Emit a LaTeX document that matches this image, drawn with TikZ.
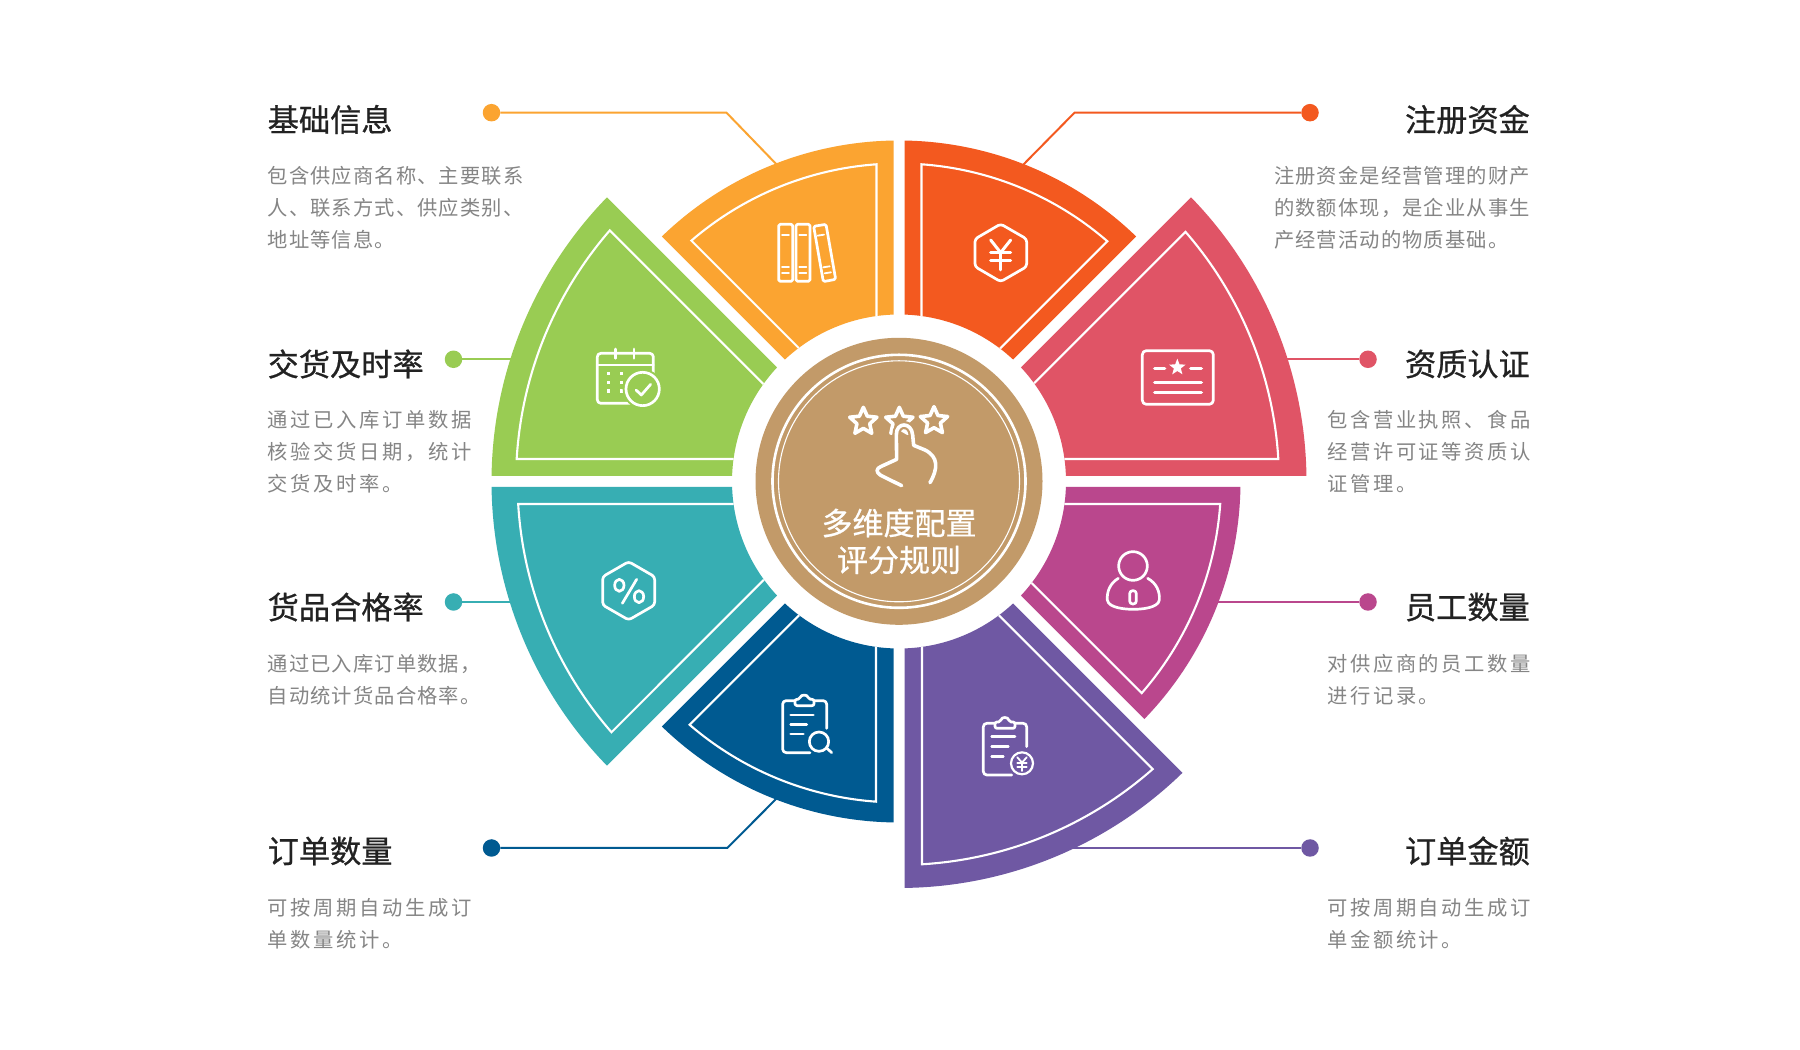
\documentclass[tikz,border=0pt]{standalone}
\usepackage{fontspec}
\newfontfamily\cjk{Noto Sans CJK SC}
\newfontfamily\cjkb{Noto Sans CJK SC}[FakeBold=0.7]
\newfontfamily\cjkA{Noto Sans CJK SC}[LetterSpace=5.4]
\newfontfamily\cjkB{Noto Sans CJK SC}[LetterSpace=13]
\definecolor{cOrange}{HTML}{FBA431}
\definecolor{cFire}{HTML}{F3591F}
\definecolor{cRed}{HTML}{E05466}
\definecolor{cMag}{HTML}{BA478D}
\definecolor{cPur}{HTML}{6F58A3}
\definecolor{cNavy}{HTML}{005A91}
\definecolor{cTeal}{HTML}{37AEB3}
\definecolor{cGreen}{HTML}{99CC53}
\definecolor{cTan}{HTML}{C29A69}
\definecolor{cTitle}{HTML}{222222}
\definecolor{cBody}{HTML}{858585}
\tikzset{
  iconline/.style={draw=white,line width=2.7pt,line cap=round,line join=round},
  thinline/.style={draw=white,line width=1.8pt,line cap=round},
  zoomed/.style={x=0.33333pt,y=-0.33333pt},
  dotnode/.style={circle,fill=#1,minimum size=17.5pt,inner sep=0pt},
  lead/.style={draw=#1,line width=2pt},
  headline/.style={font=\cjkb\fontsize{31.2pt}{34pt}\selectfont,text=cTitle,inner sep=0pt},
  bodyA/.style={font=\cjkA\fontsize{20.3pt}{31.6pt}\selectfont,text=cBody,inner sep=0pt,align=left,anchor=west},
  bodyB/.style={font=\cjkB\fontsize{20.3pt}{31.6pt}\selectfont,text=cBody,inner sep=0pt,align=left,anchor=west},
  hub/.style={font=\cjkb\fontsize{31pt}{34pt}\selectfont,text=white,inner sep=0pt},
}
\newcommand{\wedgeshape}[7]{%
 % #1 start angle, #2 outer radius, #3 colour, #4 line radius, #5 offset at start, #6 offset at end
 \pgfmathsetmacro\aoa{#1+asin(5.5/#2)}
 \pgfmathsetmacro\aob{#1+45-asin(5.5/#2)}
 \pgfmathsetmacro\aia{#1+asin(5.5/167)}
 \pgfmathsetmacro\aib{#1+45-asin(5.5/167)}
 \fill[#3] (\aoa:#2pt) arc[start angle=\aoa,end angle=\aob,radius=#2pt]
   -- (\aib:167pt) arc[start angle=\aib,end angle=\aia,radius=167pt] -- cycle;
 \pgfmathsetmacro\loa{#1+asin(#5/#4)}
 \pgfmathsetmacro\lob{#1+45-asin(#6/#4)}
 \pgfmathsetmacro\lia{#1+asin(#5/167)}
 \pgfmathsetmacro\lib{#1+45-asin(#6/167)}
 \draw[white,line width=#7pt,line join=miter] (\lia:167pt) -- (\loa:#4pt)
   arc[start angle=\loa,end angle=\lob,radius=#4pt] -- (\lib:167pt);
}
\newcommand{\hollowstar}[3]{%
 \draw[iconline,line width=3.6pt] (#1,#2)
   +(-90:#3) -- +(-54:0.47*#3) -- +(-18:#3) -- +(18:0.47*#3) -- +(54:#3) -- +(90:0.47*#3)
   -- +(126:#3) -- +(162:0.47*#3) -- +(198:#3) -- +(234:0.47*#3) -- cycle;
}
\begin{document}
\begin{tikzpicture}[x=1pt,y=1pt]
\useasboundingbox[fill=white] (0,0) rectangle (1800,1050);

% connectors (drawn under the wedges)
\node[dotnode=cOrange] (d1) at (491.5,937.3) {};
\coordinate (b1) at (726.5,937.3);
\coordinate (e1) at (780,882);
\draw[lead=cOrange] (d1) -- (b1) -- (e1);

\node[dotnode=cFire] (d2) at (1310,937.3) {};
\coordinate (b2) at (1074.5,937.3);
\coordinate (e2) at (1020,882);
\draw[lead=cFire] (d2) -- (b2) -- (e2);

\node[dotnode=cGreen] (d3) at (453.5,690.7) {};
\coordinate (e3) at (520,690.7);
\draw[lead=cGreen] (d3) -- (e3);

\node[dotnode=cRed] (d4) at (1368,690.7) {};
\coordinate (e4) at (1280,690.7);
\draw[lead=cRed] (d4) -- (e4);

\node[dotnode=cTeal] (d5) at (453.5,448) {};
\coordinate (e5) at (520,448);
\draw[lead=cTeal] (d5) -- (e5);

\node[dotnode=cMag] (d6) at (1368,448) {};
\coordinate (e6) at (1210,448);
\draw[lead=cMag] (d6) -- (e6);

\node[dotnode=cNavy] (d7) at (491.5,202) {};
\coordinate (b7) at (727.3,202);
\coordinate (e7) at (780,255);
\draw[lead=cNavy] (d7) -- (b7) -- (e7);

\node[dotnode=cPur] (d8) at (1310,202) {};
\coordinate (e8) at (1060,202);
\draw[lead=cPur] (d8) -- (e8);

% wedges
\begin{scope}[shift={(899,568.5)}]
\wedgeshape{90}{341}{cOrange}{318}{22.5}{23.5}{2.1}
\wedgeshape{45}{341}{cFire}{318}{22.5}{22.5}{2.1}
\wedgeshape{0}{407.5}{cRed}{380}{22.5}{26}{2.1}
\wedgeshape{-45}{341.5}{cMag}{322}{22}{22.5}{2.1}
\wedgeshape{-90}{406.5}{cPur}{383.5}{23}{24}{2.1}
\wedgeshape{-135}{341}{cNavy}{321}{24}{23}{2.1}
\wedgeshape{180}{407.5}{cTeal}{381.5}{22.5}{26}{2.1}
\wedgeshape{135}{407.5}{cGreen}{383}{27}{22.5}{2.1}
\end{scope}

% hub
\node[circle,fill=cTan,minimum size=287pt,inner sep=0pt] (hubdisc) at (899,568.7) {};
\draw[white,line width=2.6pt] (hubdisc.center) circle[radius=126.5pt];
\draw[white,line width=1.1pt] (hubdisc.center) circle[radius=120.5pt];
\node[hub] (hubA) at (899,527) {多维度配置};
\node[hub] (hubB) at (899,490) {评分规则};

% hub icon
\begin{scope}[zoomed,shift={(730pt,730pt)}]
\hollowstar{400}{305}{43}
\hollowstar{508}{305}{43}
\hollowstar{612}{303}{43}
\draw[cTan,line width=8pt,line cap=round,line join=round]
  (515,497) -- (452,466) .. controls (436,456) and (440,445) .. (452,440) -- (500,418) -- (499,345)
  .. controls (498,305) and (545,305) .. (548,345) -- (551,376) -- (585,390)
  .. controls (625,410) and (625,445) .. (600,488);
\draw[iconline,line width=3.6pt]
  (515,497) -- (452,466) .. controls (436,456) and (440,445) .. (452,440) -- (500,418) -- (499,345)
  .. controls (498,305) and (545,305) .. (548,345) -- (551,376) -- (585,390)
  .. controls (625,410) and (625,445) .. (600,488);
\end{scope}

% books
\begin{scope}[zoomed,shift={(480pt,930pt)}]
\draw[iconline,rounded corners=1.5pt] (896,313) rectangle (938,484);
\draw[iconline,rounded corners=1.5pt] (948,313) rectangle (990,484);
\draw[iconline,rounded corners=1.5pt] (1001,319) -- (1038,313) -- (1067,478) -- (1030,485) -- cycle;
\foreach \yy in {345,440,458}{
  \draw[thinline] (906,\yy) -- (927,\yy);
  \draw[thinline] (958,\yy) -- (979,\yy);
}
\draw[thinline] (1013,347) -- (1032,344);
\draw[thinline] (1030,442) -- (1049,439);
\draw[thinline] (1034,460) -- (1053,457);
% calendar
\draw[iconline,rounded corners=3.5pt] (352,700) rectangle (520,850);
\draw[iconline] (352,735) -- (520,735);
\draw[iconline] (407,687) -- (407,715);
\draw[iconline] (462,687) -- (462,715);
\foreach \xx/\yy in {385/760,425/760,385/787,425/787,385/813,425/813}{
  \fill[white] (\xx-5,\yy-5) rectangle (\xx+5,\yy+5);
}
\fill[cGreen] (488,807) circle[radius=60];
\draw[iconline] (488,807) circle[radius=50];
\draw[iconline] (468,810) -- (484,825) -- (512,793);
\end{scope}

% yen hexagon and licence
\begin{scope}[zoomed,shift={(900pt,930pt)}]
\draw[iconline,rounded corners=3pt] (302,312) -- (380,357) -- (380,440) -- (302,485) -- (225,440) -- (225,357) -- cycle;
\draw[iconline,line width=3pt] (272,360) -- (302,398) -- (332,360);
\draw[iconline,line width=3pt] (272,398) -- (332,398);
\draw[iconline,line width=3pt] (272,422) -- (332,422);
\draw[iconline,line width=3pt] (302,398) -- (302,450);
\draw[iconline,rounded corners=4pt] (727,692) rectangle (940,853);
\fill[white] (832,742) +(-90:26) -- +(-54:11) -- +(-18:26) -- +(18:11) -- +(54:26) -- +(90:11)
   -- +(126:26) -- +(162:11) -- +(198:26) -- +(234:11) -- cycle;
\draw[iconline,line width=3.4pt] (764,745) -- (794,745);
\draw[iconline,line width=3.4pt] (872,745) -- (904,745);
\draw[iconline,line width=3.4pt] (764,788) -- (904,788);
\draw[iconline,line width=3.4pt] (764,818) -- (904,818);
\end{scope}

% percent hexagon and clipboard-search
\begin{scope}[zoomed,shift={(480pt,570pt)}]
\draw[iconline,rounded corners=3pt] (446,245) -- (524,290) -- (524,375) -- (446,420) -- (368,375) -- (368,290) -- cycle;
\draw[iconline] (418,316) ellipse[x radius=14,y radius=18];
\draw[iconline] (477,350) ellipse[x radius=14,y radius=18];
\draw[iconline] (470,298) -- (427,370);
\draw[iconline,rounded corners=3.5pt] (945,662) -- (908,662) -- (908,818) -- (990,818);
\draw[iconline,rounded corners=3.5pt] (1002,662) -- (1040,662) -- (1040,745);
\draw[iconline,rounded corners=2pt] (945,677) -- (945,658) -- (960,658) .. controls (962,643) and (983,643) .. (985,658) -- (1002,658) -- (1002,677) -- cycle;
\draw[iconline] (932,705) -- (1000,705);
\draw[iconline] (932,733) -- (980,733);
\draw[iconline] (932,762) -- (970,762);
\draw[iconline] (1017,785) circle[radius=29];
\draw[iconline] (1040,804) -- (1055,818);
\end{scope}

% person and clipboard-yen
\begin{scope}[zoomed,shift={(900pt,570pt)}]
\draw[iconline] (699,258) circle[radius=43];
\draw[iconline] (655,295) .. controls (630,310) and (620,335) .. (622,360)
  .. controls (625,385) and (680,388) .. (700,388) .. controls (720,388) and (775,385) .. (778,360)
  .. controls (780,335) and (770,310) .. (743,295);
\draw[iconline,rounded corners=3pt] (689,332) rectangle (709,372);
\draw[iconline,rounded corners=3.5pt] (285,730) -- (250,730) -- (250,885) -- (335,885);
\draw[iconline,rounded corners=3.5pt] (345,730) -- (380,730) -- (380,800);
\draw[iconline,rounded corners=2pt] (285,745) -- (285,726) -- (302,726) .. controls (304,710) and (325,710) .. (327,726) -- (345,726) -- (345,745) -- cycle;
\draw[iconline] (275,770) -- (345,770);
\draw[iconline] (275,800) -- (325,800);
\draw[iconline] (275,830) -- (310,830);
\draw[iconline,line width=2.2pt] (366,850) circle[radius=33];
\draw[thinline] (352,832) -- (366,848) -- (380,832);
\draw[thinline] (352,848) -- (380,848);
\draw[thinline] (352,860) -- (380,860);
\draw[thinline] (366,848) -- (366,873);
\end{scope}

% labels
\node[headline,anchor=west] (t1) at (267.5,930.5) {基础信息};
\node[bodyA] (p1) at (267.5,842.2) {包含供应商名称、主要联系\\人、联系方式、供应类别、\\地址等信息。};
\node[headline,anchor=east] (t2) at (1530,930.5) {注册资金};
\node[bodyA] (p2) at (1274,842.2) {注册资金是经营管理的财产\\的数额体现，是企业从事生\\产经营活动的物质基础。};
\node[headline,anchor=west] (t3) at (267.5,686) {交货及时率};
\node[bodyB] (p3) at (267.5,598.2) {通过已入库订单数据\\核验交货日期，统计\\交货及时率。};
\node[headline,anchor=east] (t4) at (1530,686) {资质认证};
\node[bodyB] (p4) at (1327,598.2) {包含营业执照、食品\\经营许可证等资质认\\证管理。};
\node[headline,anchor=west] (t5) at (267.5,443) {货品合格率};
\node[bodyA] (p5) at (267.5,370.2) {通过已入库订单数据，\\自动统计货品合格率。};
\node[headline,anchor=east] (t6) at (1530,443) {员工数量};
\node[bodyB] (p6) at (1327,370.2) {对供应商的员工数量\\进行记录。};
\node[headline,anchor=west] (t7) at (267.5,199) {订单数量};
\node[bodyB] (p7) at (267.5,126.2) {可按周期自动生成订\\单数量统计。};
\node[headline,anchor=east] (t8) at (1530,199) {订单金额};
\node[bodyB] (p8) at (1327,126.2) {可按周期自动生成订\\单金额统计。};
\end{tikzpicture}
\end{document}
